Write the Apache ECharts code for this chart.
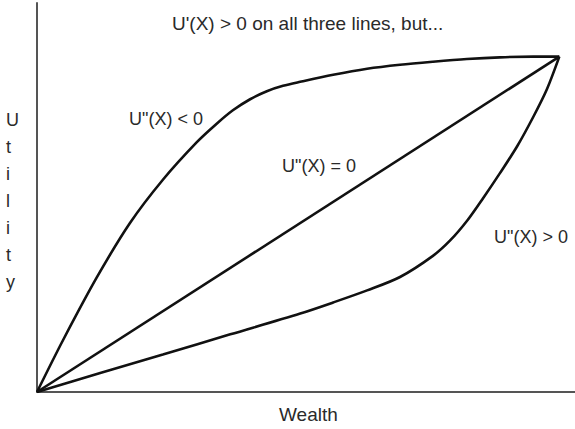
<!DOCTYPE html>
<html>
<head>
<meta charset="utf-8">
<script src="https://cdn.jsdelivr.net/npm/echarts@6/dist/echarts.min.js"></script>
<style>
  html, body { margin: 0; padding: 0; background: #fff; }
  #chart { width: 575px; height: 429px; }
</style>
</head>
<body>
<div id="chart"></div>
<script>
// Wealth (x) and utility (y) samples for the three utility curves.
const concaveX = [0, 5.0, 11.5, 17.8, 24.1, 30.6, 34.4, 37.5, 40.8, 44.0, 47.1, 50.4, 56.7, 63.2, 69.5, 75.8, 82.3, 88.6, 95.0, 100];
const concaveY = [0, 15.5, 34.3, 50.4, 63.3, 74.5, 80.0, 84.0, 87.3, 89.7, 91.3, 92.5, 94.6, 96.4, 97.6, 98.5, 99.3, 99.8, 100, 100];
const linearX = [0, 100];
const linearY = [0, 100];
const convexX = [0, 12.1, 24.1, 37.0, 50.4, 56.7, 63.2, 69.5, 75.8, 79.1, 82.3, 85.4, 88.6, 91.9, 95.0, 97.6, 100];
const convexY = [0, 5.7, 11.2, 17.2, 23.4, 26.7, 30.3, 34.3, 40.6, 45.2, 51.0, 57.8, 65.2, 73.2, 82.0, 90.2, 100];

const titleText = "U'(X) > 0 on all three lines, but...";
const curveLabels = ['U"(X) < 0', 'U"(X) = 0', 'U"(X) > 0'];
const xName = 'Wealth';
const yName = 'Utility';

const pairs = (xs, ys) => xs.map((x, i) => [x, ys[i]]);

const FONT = '"Liberation Sans", Arial, Helvetica, sans-serif';
const TEXT_COLOR = '#2a2a2a';

const chart = echarts.init(document.getElementById('chart'), null, { renderer: 'svg' });

const lineStyle = { color: '#111', width: 2.6 };
const curve = (name, data, smooth) => ({
  name, type: 'line', data, smooth, symbol: 'none',
  lineStyle, silent: true, animation: false
});

const labelStyle = { fontFamily: FONT, fontSize: 18, fill: TEXT_COLOR };
const txt = (text, left, top, extra) => ({
  type: 'text', left, top, style: Object.assign({ text }, labelStyle, extra || {})
});

chart.setOption({
  animation: false,
  grid: { left: 37, right: 0, top: 3, bottom: 37 },
  xAxis: {
    type: 'value', min: 0, max: 103,
    axisLine: { lineStyle: { color: '#555', width: 2 } },
    axisTick: { show: false }, axisLabel: { show: false }, splitLine: { show: false }
  },
  yAxis: {
    type: 'value', min: 0, max: 116,
    axisLine: { show: true, lineStyle: { color: '#555', width: 2 } },
    axisTick: { show: false }, axisLabel: { show: false }, splitLine: { show: false }
  },
  graphic: [
    txt(titleText, 172, 14, { fontSize: 19 }),
    txt(curveLabels[0], 129, 110),
    txt(curveLabels[1], 282, 157),
    txt(curveLabels[2], 494, 228),
    txt(xName, 279, 405, { fontSize: 19 }),
    txt(yName.split('').join('\n'), 6, 106, { lineHeight: 27, align: 'center' })
  ],
  series: [
    curve('concave', pairs(concaveX, concaveY), 0.3),
    curve('linear', pairs(linearX, linearY), false),
    curve('convex', pairs(convexX, convexY), 0.3)
  ]
});
</script>
</body>
</html>
